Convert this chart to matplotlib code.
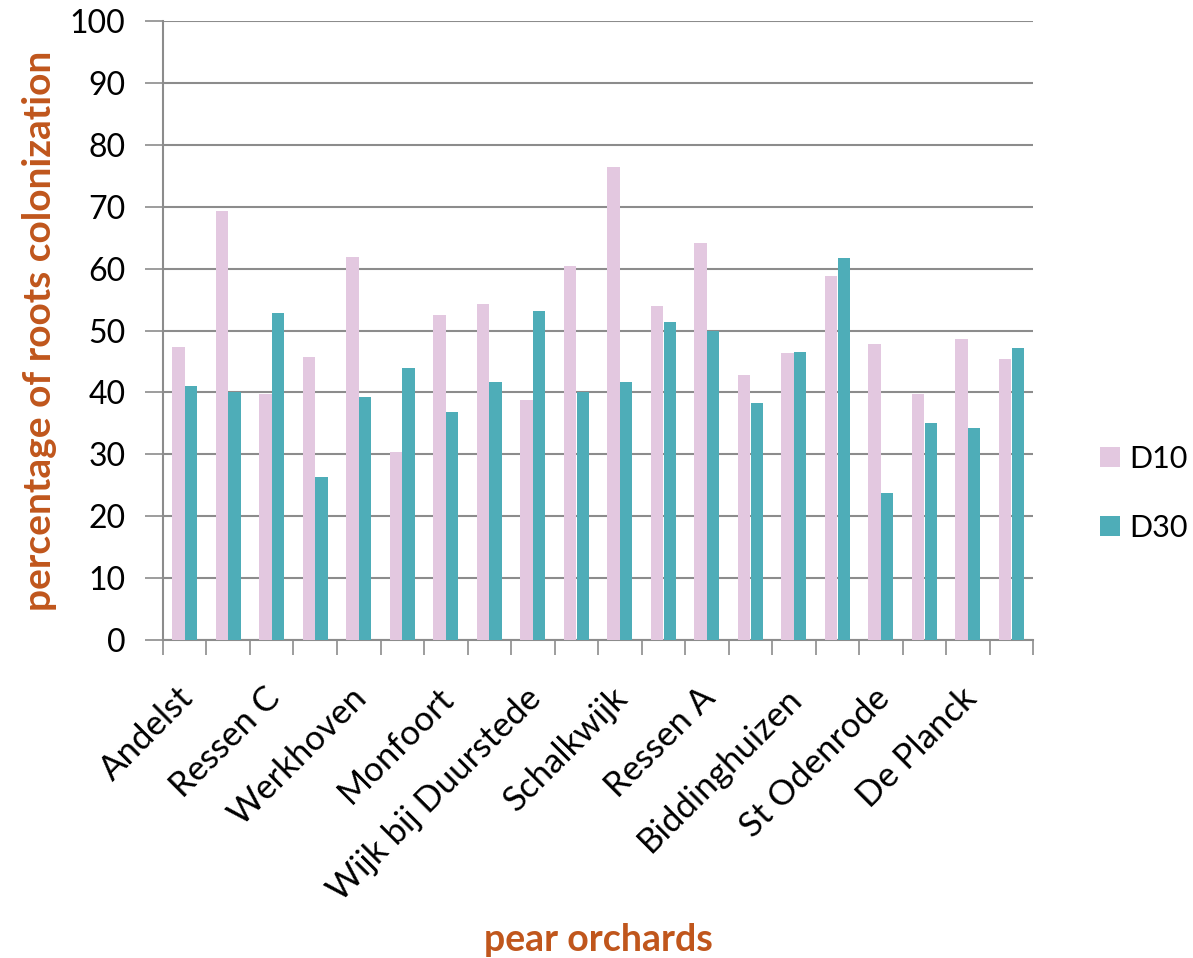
import numpy as np
import matplotlib
matplotlib.use("Agg")
from matplotlib import pyplot as plt
from matplotlib.transforms import ScaledTranslation

plt.rcParams['font.family'] = ['Lato', 'DejaVu Sans']

# 20 sampled orchards, only every other one is labelled on the axis
orchards = ["Andelst", "Ressen C", "Werkhoven", "Monfoort", "Wijk bij Duurstede",
            "Schalkwijk", "Ressen A", "Biddinghuizen", "St Odenrode", "De Planck"]
d10 = [47.4, 69.3, 39.8, 45.8, 61.9, 30.3, 52.5, 54.3, 38.7, 60.5,
       76.5, 54.0, 64.1, 42.8, 46.3, 58.8, 47.8, 39.8, 48.7, 45.4]
d30 = [41.0, 40.1, 52.8, 26.3, 39.2, 43.9, 36.8, 41.6, 53.1, 40.1,
       41.6, 51.4, 49.9, 38.3, 46.6, 61.7, 23.7, 35.0, 34.2, 47.2]

pink = "#E3C8E0"
teal = "#4EADB8"
brown = "#C0561C"
grey = "#8C8C8C"

x = np.arange(len(d10))
w = 0.285

fig = plt.figure(figsize=(11.93, 9.58), dpi=100)
ax = fig.add_axes([0.1366, 0.332, 0.7294, 0.646])

ax.bar(x - w / 2 - 0.005, d10, w, color=pink, label="D10", zorder=3)
ax.bar(x + w / 2 + 0.005, d30, w, color=teal, label="D30", zorder=3)

ax.set_xlim(-0.5, len(d10) - 0.5)
ax.set_ylim(0, 100)
ax.set_yticks(np.arange(0, 101, 10))
ax.yaxis.grid(True, color=grey, linewidth=1.5, zorder=0)
ax.tick_params(axis='y', length=13, width=1.2, color=grey, labelsize=23, pad=14)

ax.set_xticks(x[::2])
ax.set_xticklabels(orchards, rotation=45, ha='right', va='top',
                   rotation_mode='anchor', fontsize=25)
ax.tick_params(axis='x', which='major', length=0, pad=30)
ax.set_xticks(np.arange(-0.5, len(d10)), minor=True)
ax.tick_params(axis='x', which='minor', length=11, width=1.2, color=grey)
shift = ScaledTranslation(-8 / 100, 0, fig.dpi_scale_trans)
for lab in ax.get_xticklabels():
    lab.set_transform(lab.get_transform() + shift)

for s in ['top', 'right']:
    ax.spines[s].set_visible(False)
for s in ['left', 'bottom']:
    ax.spines[s].set_color(grey)
    ax.spines[s].set_linewidth(1.5)

ax.set_ylabel("percentage of roots colonization", fontsize=28, fontweight='bold',
              color=brown)
ax.yaxis.set_label_coords(-0.122, 0.5)
ax.set_xlabel("pear orchards", fontsize=27, fontweight='bold', color=brown)
ax.xaxis.set_label_coords(0.5, -0.457)

ax.legend(loc='center left', bbox_to_anchor=(1.045, 0.237), frameon=False,
          fontsize=22, handlelength=0.65, handleheight=0.65, labelspacing=1.35,
          handletextpad=0.3)

fig.savefig("out.png", dpi=100)
